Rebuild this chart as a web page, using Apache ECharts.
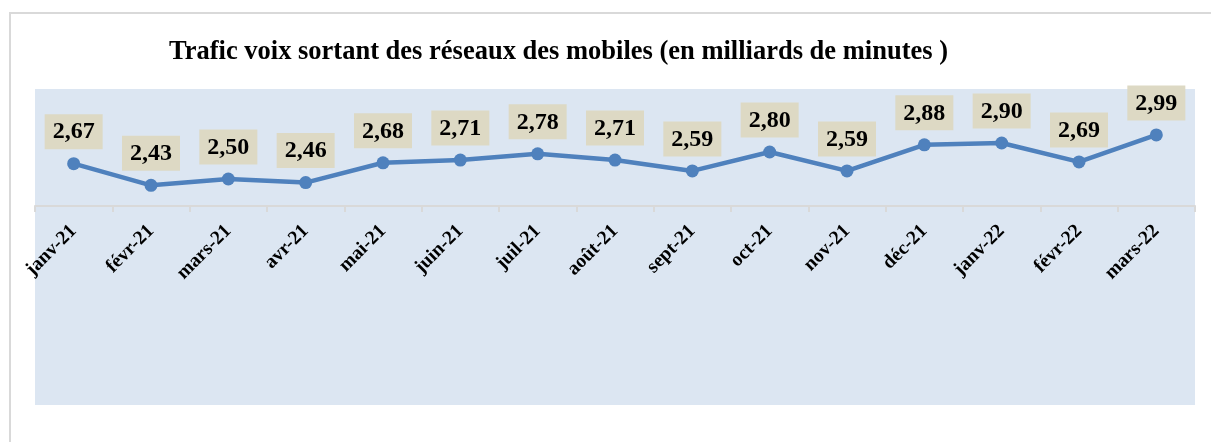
<!DOCTYPE html>
<html>
<head>
    <meta charset="utf-8"/>
    <title>Trafic voix sortant</title>
    <script src="https://cdn.jsdelivr.net/npm/echarts@6/dist/echarts.min.js"></script>
    <style>
        html, body { margin: 0; padding: 0; background: #fff; }
        #chart { width: 1211px; height: 442px; }
    </style>
</head>
<body>
<div id="chart"></div>
<script>
    // données (milliards de minutes)
    var mois = ['janv-21', 'févr-21', 'mars-21', 'avr-21', 'mai-21', 'juin-21', 'juil-21', 'août-21',
        'sept-21', 'oct-21', 'nov-21', 'déc-21', 'janv-22', 'févr-22', 'mars-22'];
    var trafic = [2.67, 2.43, 2.50, 2.46, 2.68, 2.71, 2.78, 2.71, 2.59, 2.80, 2.59, 2.88, 2.90, 2.69, 2.99];

    var serif = '"Liberation Serif", "DejaVu Serif", serif';

    var myChart = echarts.init(document.getElementById('chart'));
    var option = {
        backgroundColor: '#ffffff',
        animation: false,
        title: {
            text: 'Trafic voix sortant des réseaux des mobiles (en milliards de minutes )',
            left: 164,
            top: 34,
            textStyle: {
                fontFamily: serif,
                fontSize: 26.5,
                fontWeight: 'bold',
                color: '#000'
            }
        },
        graphic: [{
            // cadre du graphique
            type: 'rect',
            shape: {x: 10, y: 13, width: 1230, height: 450},
            style: {fill: 'none', stroke: '#d9d9d9', lineWidth: 2},
            silent: true,
            z: -10
        }, {
            // zone de traçage (fond bleu clair)
            type: 'rect',
            shape: {x: 35, y: 89, width: 1160, height: 316},
            style: {fill: '#dce6f2'},
            silent: true,
            z: -10
        }],
        // la grille s'arrête là où l'axe des catégories croise (2,2)
        grid: {
            left: 35,
            top: 89,
            width: 1160,
            height: 117
        },
        xAxis: {
            type: 'category',
            data: mois,
            axisLine: {lineStyle: {color: '#d9d9d9', width: 2}},
            axisTick: {show: true, length: 6, lineStyle: {color: '#d9d9d9', width: 2}},
            axisLabel: {
                rotate: 45,
                margin: 22,
                interval: 0,
                fontFamily: serif,
                fontSize: 19.5,
                fontWeight: 'bold',
                color: '#000'
            }
        },
        yAxis: {
            type: 'value',
            min: 2.2,
            max: 3.5,
            show: false,
            splitLine: {show: false}
        },
        series: [{
            type: 'line',
            data: trafic,
            symbol: 'circle',
            symbolSize: 13,
            itemStyle: {color: '#4f81bd'},
            lineStyle: {color: '#4f81bd', width: 4.5},
            label: {
                show: true,
                position: 'top',
                distance: 8,
                formatter: function (p) {
                    return p.value.toFixed(2).replace('.', ',');
                },
                fontFamily: serif,
                fontSize: 24,
                fontWeight: 'bold',
                color: '#000',
                backgroundColor: '#ddd9c4',
                padding: [6, 8, 5, 8]
            }
        }]
    };
    myChart.setOption(option);
</script>
</body>
</html>
